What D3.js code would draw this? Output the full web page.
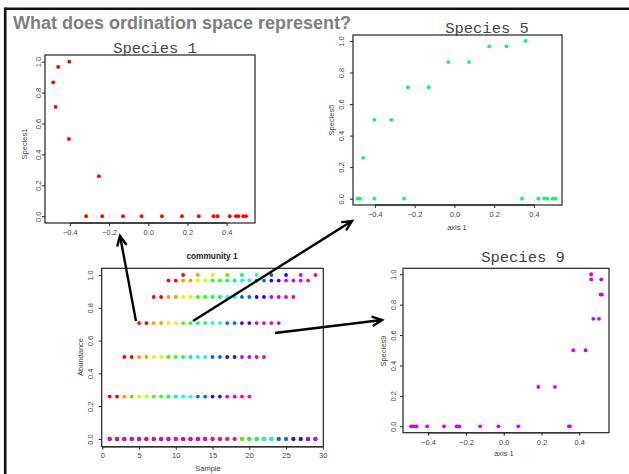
<!DOCTYPE html>
<html>
<head>
<meta charset="utf-8">
<script src="https://cdn.jsdelivr.net/npm/d3@7"></script>
<style>
  body { margin: 0; background: #fff; }
</style>
</head>
<body>
<svg id="slide" width="629" height="474"></svg>
<script>
// ---- Data -------------------------------------------------------------

// Species colours (rainbow palette, one per species)
const speciesColors = ["#FF0000", "#FF9900", "#CCFF00", "#33FF00", "#00FF66",
                       "#00FFFF", "#0066FF", "#3300FF", "#CC00FF", "#FF0099"];

// Community 1: abundance of 10 species across 29 samples
const samples = [1,2,3,4,5,6,7,8,9,10,11,12,13,14,15,16,17,18,19,20,21,22,23,24,25,26,27,28,29];
const abund1  = [.259,.259,.5,.5,.707,.707,.866,.866,.966,.966,1,0,0,0,0,0,0,0,0,0,0,0,0,0,0,0,0,0,0];
const abund2  = [0,0,.259,.259,.5,.5,.707,.707,.866,.866,.966,.966,1,0,0,0,0,0,0,0,0,0,0,0,0,0,0,0,0];
const abund3  = [0,0,0,0,.259,.259,.5,.5,.707,.707,.866,.866,.966,.966,1,0,0,0,0,0,0,0,0,0,0,0,0,0,0];
const abund4  = [0,0,0,0,0,0,.259,.259,.5,.5,.707,.707,.866,.866,.966,.966,1,0,0,0,0,0,0,0,0,0,0,0,0];
const abund5  = [0,0,0,0,0,0,0,0,.259,.259,.5,.5,.707,.707,.866,.866,.966,.966,1,0,0,0,0,0,0,0,0,0,0];
const abund6  = [0,0,0,0,0,0,0,0,0,0,.259,.259,.5,.5,.707,.707,.866,.866,.966,.966,1,0,0,0,0,0,0,0,0];
const abund7  = [0,0,0,0,0,0,0,0,0,0,0,0,.259,.259,.5,.5,.707,.707,.866,.866,.966,.966,1,0,0,0,0,0,0];
const abund8  = [0,0,0,0,0,0,0,0,0,0,0,0,0,0,.259,.259,.5,.5,.707,.707,.866,.866,.966,.966,1,0,0,0,0];
const abund9  = [0,0,0,0,0,0,0,0,0,0,0,0,0,0,0,0,.259,.259,.5,.5,.707,.707,.866,.866,.966,.966,1,0,0];
const abund10 = [0,0,0,0,0,0,0,0,0,0,0,0,0,0,0,0,0,0,.259,.259,.5,.5,.707,.707,.866,.866,.966,.966,1];
const community = [abund1, abund2, abund3, abund4, abund5, abund6, abund7, abund8, abund9, abund10];

// Species abundance against ordination axis 1
const sp1Axis  = [-0.485,-0.46,-0.473,-0.403,-0.405,-0.252,-0.317,-0.235,-0.129,-0.034,0.07,0.172,0.258,0.333,0.354,0.416,0.448,0.46,0.485,0.499];
const sp1Value = [0.866,0.966,0.707,1.0,0.5,0.259,0,0,0,0,0,0,0,0,0,0,0,0,0,0];

const sp5Axis  = [-0.487,-0.475,-0.459,-0.403,-0.403,-0.318,-0.253,-0.234,-0.130,-0.031,0.073,0.175,0.262,0.358,0.340,0.422,0.452,0.467,0.494,0.507];
const sp5Value = [0,0,0.259,0.5,0,0.5,0,0.707,0.707,0.866,0.866,0.966,0.966,1.0,0,0,0,0,0,0];

const sp9Axis  = [-0.49,-0.478,-0.462,-0.405,-0.316,-0.25,-0.235,-0.125,-0.028,0.077,0.345,0.35,0.183,0.271,0.368,0.433,0.474,0.504,0.513,0.52,0.463,0.516,0.463];
const sp9Value = [0,0,0,0,0,0,0,0,0,0,0,0,0.259,0.259,0.5,0.5,0.707,0.707,0.866,0.866,0.966,0.966,1.0];

// Tick values
const axisTicks  = [-0.4, -0.2, 0.0, 0.2, 0.4];
const valueTicks = [0.0, 0.2, 0.4, 0.6, 0.8, 1.0];
const sampleTicks = [0, 5, 10, 15, 20, 25, 30];

// ---- Drawing ----------------------------------------------------------

const svg = d3.select("#slide");
const fmt1 = d3.format(".1f");
const SANS = "'Liberation Sans', Arial, Helvetica, sans-serif";
const MONO = "'Liberation Mono', 'Courier New', monospace";

// Slide frame
svg.append("line").attr("x1", 5).attr("x2", 629).attr("y1", 8.7).attr("y2", 8.7)
  .attr("stroke", "#111").attr("stroke-width", 2.6);
svg.append("line").attr("x1", 5.2).attr("x2", 5.2).attr("y1", 7.5).attr("y2", 474)
  .attr("stroke", "#111").attr("stroke-width", 2.6);

// Slide heading
svg.append("text").attr("x", 13).attr("y", 28.5)
  .style("font-family", SANS).style("font-size", "18px").style("font-weight", "bold")
  .attr("fill", "#7f7f7f")
  .text("What does ordination space represent?");

function panel(cfg) {
  const g = svg.append("g");
  const x = d3.scaleLinear().domain(cfg.xDomain).range([cfg.left, cfg.right]);
  const y = d3.scaleLinear().domain(cfg.yDomain).range([cfg.bottom, cfg.top]);

  // points
  g.selectAll("circle.pt").data(cfg.points).join("circle")
    .attr("class", "pt")
    .attr("cx", d => x(d.x)).attr("cy", d => y(d.y))
    .attr("r", 1.9).attr("fill", d => d.color);

  // box
  g.append("rect").attr("x", cfg.left).attr("y", cfg.top)
    .attr("width", cfg.right - cfg.left).attr("height", cfg.bottom - cfg.top)
    .attr("fill", "none").attr("stroke", "#222").attr("stroke-width", 1.2);

  // x axis
  const xa = g.append("g").attr("transform", `translate(0,${cfg.bottom})`)
    .call(d3.axisBottom(x).tickValues(cfg.xTicks).tickSize(3).tickFormat(cfg.xFormat));
  xa.select(".domain").attr("d", `M${x(cfg.xTicks[0])},0H${x(cfg.xTicks[cfg.xTicks.length - 1])}`)
    .attr("stroke", "#333").attr("stroke-width", 1.6);
  xa.selectAll(".tick line").attr("stroke", "#222");
  xa.selectAll(".tick text").attr("y", cfg.xLabOff).attr("dy", "0.35em")
    .style("font-size", "7.5px").style("font-family", SANS).attr("fill", "#444");

  // y axis (labels parallel to the axis)
  const ya = g.append("g").attr("transform", `translate(${cfg.left},0)`)
    .call(d3.axisLeft(y).tickValues(valueTicks).tickSize(3).tickFormat(fmt1));
  ya.select(".domain").remove();
  ya.selectAll(".tick line").attr("stroke", "#222");
  ya.selectAll(".tick text")
    .attr("x", 0).attr("dy", "0.35em").attr("text-anchor", "middle")
    .attr("transform", `translate(${-cfg.yLabOff},0) rotate(-90)`)
    .style("font-size", "7.5px").style("font-family", SANS).attr("fill", "#444");

  // axis titles
  if (cfg.xTitle) {
    g.append("text").attr("x", cfg.xTitle.x).attr("y", cfg.xTitle.y).attr("dy", "0.35em")
      .attr("text-anchor", "middle").style("font-size", "7.5px").style("font-family", SANS)
      .attr("fill", "#444").text(cfg.xTitle.text);
  }
  if (cfg.yTitle) {
    g.append("text").attr("transform", `translate(${cfg.yTitle.x},${cfg.yTitle.y}) rotate(-90)`)
      .attr("dy", "0.35em").attr("text-anchor", "middle")
      .style("font-size", "7.5px").style("font-family", SANS).attr("fill", "#444")
      .text(cfg.yTitle.text);
  }
  if (cfg.title) {
    g.append("text").attr("x", cfg.title.x).attr("y", cfg.title.y)
      .attr("text-anchor", "middle")
      .style("font-size", cfg.title.size + "px")
      .style("font-weight", cfg.title.weight || "normal")
      .style("font-family", cfg.title.family)
      .attr("fill", cfg.title.color)
      .text(cfg.title.text);
  }
  return { x, y };
}

const pairs = (xs, ys, color) => xs.map((v, i) => ({ x: v, y: ys[i], color }));

// Species 1 against axis 1
panel({
  left: 45, right: 255, top: 55, bottom: 223,
  xDomain: [-0.527, 0.545], yDomain: [-0.044, 1.043],
  xTicks: axisTicks, xFormat: fmt1, xLabOff: 9, yLabOff: 7,
  points: pairs(sp1Axis, sp1Value, speciesColors[0]),
  yTitle: { x: 24, y: 144, text: "Species1" },
  title: { x: 155, y: 53, text: "Species 1", size: 15.5, family: MONO, color: "#444" }
});

// Species 5 against axis 1
panel({
  left: 353, right: 562, top: 35, bottom: 205,
  xDomain: [-0.51, 0.541], yDomain: [-0.04, 1.038],
  xTicks: axisTicks, xFormat: fmt1, xLabOff: 9, yLabOff: 12,
  points: pairs(sp5Axis, sp5Value, speciesColors[4]),
  xTitle: { x: 457, y: 227, text: "axis 1" },
  yTitle: { x: 331, y: 120, text: "Species5" },
  title: { x: 487, y: 33, text: "Species 5", size: 15.5, family: MONO, color: "#444" }
});

// Species 9 against axis 1
panel({
  left: 403, right: 609, top: 268.3, bottom: 432.7,
  xDomain: [-0.533, 0.557], yDomain: [-0.042, 1.039],
  xTicks: axisTicks, xFormat: fmt1, xLabOff: 10, yLabOff: 10,
  points: pairs(sp9Axis, sp9Value, speciesColors[8]),
  xTitle: { x: 504, y: 453, text: "axis 1" },
  yTitle: { x: 383, y: 351, text: "Species9" },
  title: { x: 523, y: 262, text: "Species 9", size: 15.5, family: MONO, color: "#444" }
});

// Community 1: every species' abundance per sample
const commPoints = [];
community.forEach((row, k) => row.forEach((v, i) => commPoints.push({ x: samples[i], y: v, color: speciesColors[k] })));
panel({
  left: 101.7, right: 323.3, top: 268.3, bottom: 446.7,
  xDomain: [-0.08, 30.07], yDomain: [-0.047, 1.041],
  xTicks: sampleTicks, xFormat: d3.format("d"), xLabOff: 8.5, yLabOff: 11.5,
  points: commPoints,
  xTitle: { x: 208, y: 468, text: "Sample" },
  yTitle: { x: 80, y: 357, text: "Abundance" },
  title: { x: 212, y: 259, text: "community 1", size: 8.3, weight: "bold", family: SANS, color: "#222" }
});

// Arrows from the community plot to the species plots
const arrows = [
  { from: [136, 321], to: [120, 236] },
  { from: [193, 321], to: [352, 221] },
  { from: [275, 333], to: [382, 320] }
];
const line = d3.line();
arrows.forEach(a => {
  const [x1, y1] = a.from, [x2, y2] = a.to;
  const ang = Math.atan2(y2 - y1, x2 - x1);
  const len = 10, spread = Math.PI / 7;
  svg.append("path").attr("d", line([a.from, a.to]))
    .attr("stroke", "#000").attr("stroke-width", 2.4).attr("fill", "none");
  const h1 = [x2 - len * Math.cos(ang - spread), y2 - len * Math.sin(ang - spread)];
  const h2 = [x2 - len * Math.cos(ang + spread), y2 - len * Math.sin(ang + spread)];
  svg.append("path").attr("d", line([h1, a.to, h2]))
    .attr("stroke", "#000").attr("stroke-width", 2.4).attr("fill", "none")
    .attr("stroke-linejoin", "miter").attr("stroke-linecap", "round");
});
</script>
</body>
</html>
